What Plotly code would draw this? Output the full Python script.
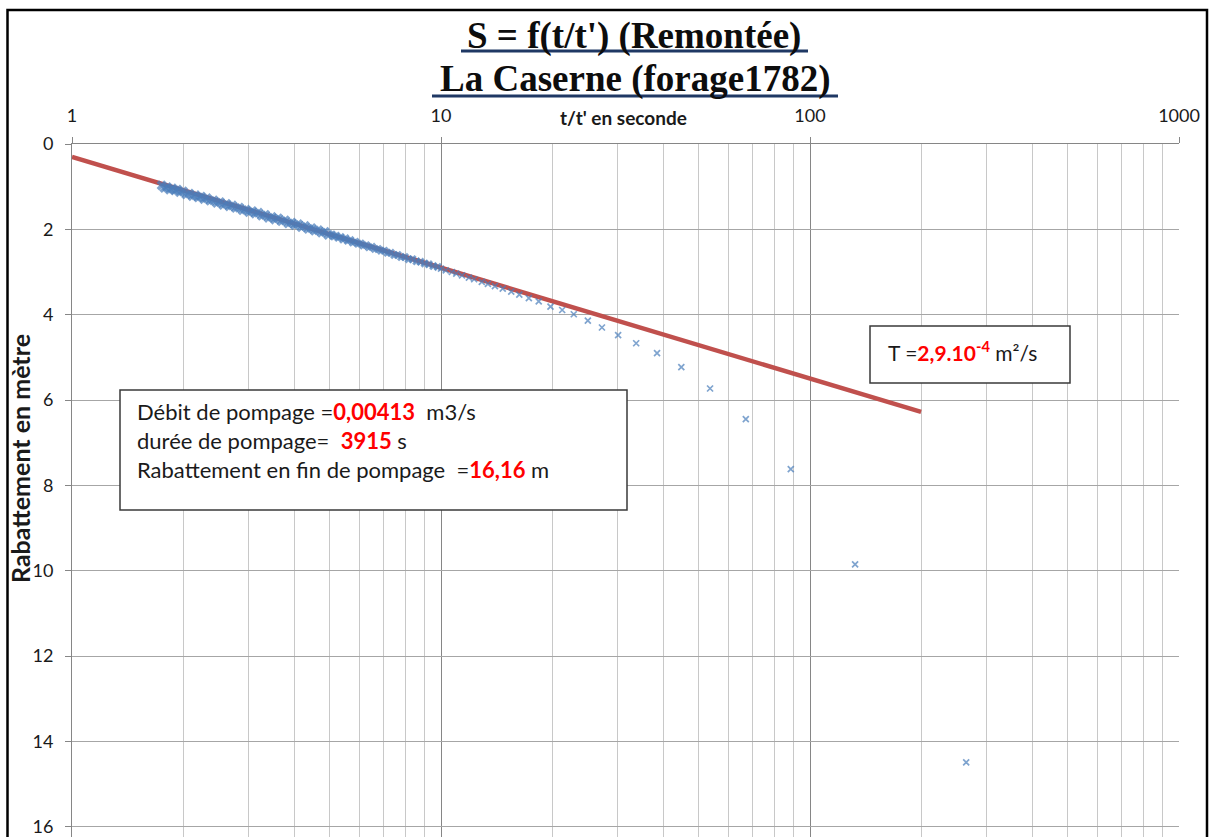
import plotly.graph_objects as go

# ---------------- data ----------------
ratio_t = [1.75, 1.78, 1.81, 1.84, 1.87, 1.9, 1.93, 1.96, 2.0, 2.04, 2.08, 2.12, 2.16,
           2.2, 2.24, 2.28, 2.32, 2.37, 2.42, 2.47, 2.52, 2.57, 2.62, 2.67, 2.72,
           2.78, 2.84, 2.9, 2.96, 3.02, 3.08, 3.14, 3.2, 3.27, 3.34, 3.41, 3.48, 3.55,
           3.62, 3.7, 3.78, 3.86, 3.94, 4.02, 4.1, 4.19, 4.28, 4.37, 4.46, 4.55,
           4.65, 4.75, 4.85, 4.95,
           5.06, 5.13, 5.2, 5.27, 5.35, 5.43, 5.51, 5.59, 5.68, 5.77,
           5.86, 5.96, 6.06, 6.16, 6.27, 6.38, 6.5, 6.62, 6.75, 6.88,
           7.02, 7.16, 7.31, 7.47, 7.63, 7.8, 7.98, 8.17, 8.37, 8.58,
           8.8, 9.03, 9.27, 9.53, 9.8, 10.0,
           10.3, 10.7, 11.0, 11.4, 11.9, 12.3, 12.9, 13.4, 14.0, 14.7, 15.5, 16.3, 17.3, 18.4,
           19.8, 21.3, 22.9, 25.0, 27.3, 30.2, 33.8, 38.5, 44.8, 53.6, 67.0, 88.7, 132.5, 265.0]

rabattement = [0.97, 1.03, 1.01, 1.07, 1.04, 1.09, 1.07, 1.13, 1.11, 1.18, 1.16, 1.22, 1.20,
               1.25, 1.23, 1.29, 1.27, 1.33, 1.32, 1.38, 1.36, 1.43, 1.40, 1.46, 1.44,
               1.50, 1.49, 1.55, 1.54, 1.60, 1.57, 1.63, 1.61, 1.68, 1.66, 1.73, 1.71, 1.77,
               1.74, 1.81, 1.79, 1.86, 1.84, 1.90, 1.88, 1.95, 1.92, 1.99, 1.97, 2.03,
               2.02, 2.08, 2.06, 2.13,
               2.12, 2.17, 2.15, 2.20, 2.18, 2.24, 2.21, 2.27, 2.25, 2.31,
               2.29, 2.34, 2.33, 2.38, 2.37, 2.42, 2.41, 2.46, 2.46, 2.50,
               2.50, 2.55, 2.55, 2.60, 2.60, 2.65, 2.65, 2.70, 2.70, 2.75,
               2.76, 2.80, 2.82, 2.86, 2.88, 2.92,
               2.96, 3.00, 3.04, 3.08, 3.13, 3.17, 3.23, 3.28, 3.33, 3.39, 3.46, 3.53, 3.61, 3.69,
               3.81, 3.89, 3.99, 4.14, 4.30, 4.48, 4.67, 4.90, 5.23, 5.73, 6.45, 7.62, 9.85, 14.49]

droite_t = [1, 200]
droite_s = [0.30, 6.28]

x_tickvals = [1, 10, 100, 1000]
x_ticktext = ["1", "10", "100", "1000"]
x_minorvals = [2, 3, 4, 5, 6, 7, 8, 9, 20, 30, 40, 50, 60, 70, 80, 90,
               200, 300, 400, 500, 600, 700, 800, 900]
y_tickvals = [0, 2, 4, 6, 8, 10, 12, 14, 16]
y_ticktext = ["0", "2", "4", "6", "8", "10", "12", "14", "16"]

# ---------------- figure ----------------
# figure is a little taller than the window so that y = 16 sits at the window bottom
W, H = 1211, 850
L, R, T, B = 72, 32, 144, 10
pw, ph = W - L - R, H - T - B
UNIT = 42.67                     # pixels per metre on the y axis
y_bottom = ph / UNIT             # bottom of the range (just beyond 16)


def px(xp):
    return (xp - L) / pw


def py(yp):
    return (H - B - yp) / ph


BLUE = "#4a7ebb"
# dense early points merge into a thick band; late points are single small crosses
msym, msize, mlw = [], [], []
for t in ratio_t:
    if t < 5:
        msym.append("x"); msize.append(9); mlw.append(0)
    elif t < 10:
        msym.append("x"); msize.append(7.5); mlw.append(0)
    else:
        msym.append("x-thin"); msize.append(6); mlw.append(1.7)

fig = go.Figure()
fig.add_trace(go.Scatter(x=droite_t, y=droite_s, mode="lines",
                         line=dict(color="#c0504d", width=4.5), showlegend=False,
                         hoverinfo="skip"))
fig.add_trace(go.Scatter(x=ratio_t, y=rabattement, mode="markers",
                         marker=dict(symbol=msym, size=msize, color=BLUE,
                                     line=dict(width=mlw, color=BLUE)),
                         showlegend=False))

tickfont = dict(family="Lato", size=18, color="#1a1a1a")
fig.update_xaxes(type="log", range=[0, 3], side="top",
                 tickvals=x_tickvals, ticktext=x_ticktext,
                 ticks="outside", ticklen=6, tickcolor="#868686", tickwidth=1,
                 showline=True, linecolor="#868686", linewidth=1,
                 showgrid=True, gridcolor="#868686", gridwidth=1,
                 minor=dict(tickvals=x_minorvals, showgrid=True, gridcolor="#c8c8c8",
                            gridwidth=1, ticks=""),
                 zeroline=False, tickfont=tickfont, ticklabelstandoff=8)
fig.update_yaxes(range=[y_bottom, 0], tickvals=y_tickvals, ticktext=y_ticktext,
                 ticks="outside", ticklen=6, tickcolor="#868686", tickwidth=1,
                 showline=True, linecolor="#868686", linewidth=1,
                 showgrid=True, gridcolor="#a6a6a6", gridwidth=1,
                 zeroline=False, tickfont=tickfont, ticklabelstandoff=8)

shapes = []
# outer frame
shapes.append(dict(type="rect", xref="paper", yref="paper",
                   x0=px(7.5), x1=px(1207), y0=py(848), y1=py(10),
                   line=dict(color="black", width=2.5), layer="above"))
# title underlines
shapes.append(dict(type="line", xref="paper", yref="paper",
                   x0=px(461), x1=px(808), y0=py(51), y1=py(51),
                   line=dict(color="#1f3864", width=3)))
shapes.append(dict(type="line", xref="paper", yref="paper",
                   x0=px(432), x1=px(838), y0=py(96), y1=py(96),
                   line=dict(color="#1f3864", width=3)))
# text boxes
shapes.append(dict(type="rect", xref="paper", yref="paper",
                   x0=px(120), x1=px(627), y0=py(510), y1=py(390),
                   fillcolor="white", line=dict(color="#3a3a3a", width=1.5), layer="above"))
shapes.append(dict(type="rect", xref="paper", yref="paper",
                   x0=px(870), x1=px(1070), y0=py(383), y1=py(326),
                   fillcolor="white", line=dict(color="#3a3a3a", width=1.5), layer="above"))

RED = "#ff0000"
nb = "\u00a0"


def red(s):
    return '<span style="color:' + RED + '"><b>' + s + '</b></span>'


boxfont = dict(family="Lato", size=22, color="#1a1a1a")
ann = []
ann.append(dict(text="<b>S = f(t/t') (Remontée)</b>", x=px(634), y=py(36), xref="paper", yref="paper",
                showarrow=False, xanchor="center", yanchor="middle",
                font=dict(family="Liberation Serif", size=37, color="#0d0d0d")))
ann.append(dict(text="<b>La Caserne (forage1782)</b>", x=px(635), y=py(79), xref="paper", yref="paper",
                showarrow=False, xanchor="center", yanchor="middle",
                font=dict(family="Liberation Serif", size=37, color="#0d0d0d")))
ann.append(dict(text="<b>t/t' en seconde</b>", x=px(623), y=py(117), xref="paper", yref="paper",
                showarrow=False, xanchor="center", yanchor="middle",
                font=dict(family="Lato", size=19, color="#1a1a1a")))
ann.append(dict(text="<b>Rabattement en mètre</b>", x=px(20), y=py(459), xref="paper", yref="paper",
                showarrow=False, xanchor="center", yanchor="middle", textangle=-90,
                font=dict(family="Lato", size=25, color="#1a1a1a")))
ann.append(dict(text="Débit de pompage =" + red("0,00413") + nb * 2 + "m3/s",
                x=px(135), y=py(411), xref="paper", yref="paper", showarrow=False,
                xanchor="left", yanchor="middle", font=boxfont))
ann.append(dict(text="durée de pompage=" + nb * 2 + red("3915") + " s",
                x=px(135), y=py(440), xref="paper", yref="paper", showarrow=False,
                xanchor="left", yanchor="middle", font=boxfont))
ann.append(dict(text="Rabattement en fin de pompage" + nb * 2 + "=" + red("16,16") + " m",
                x=px(135), y=py(469), xref="paper", yref="paper", showarrow=False,
                xanchor="left", yanchor="middle", font=boxfont))
ann.append(dict(text="T =" + red("2,9.10<sup>-4</sup>") + " m²/s",
                x=px(886), y=py(351), xref="paper", yref="paper", showarrow=False,
                xanchor="left", yanchor="middle", font=dict(family="Lato", size=21, color="#1a1a1a")))

fig.update_layout(width=W, height=H, margin=dict(l=L, r=R, t=T, b=B, pad=0),
                  paper_bgcolor="white", plot_bgcolor="white",
                  shapes=shapes, annotations=ann, showlegend=False)

fig.write_html("out.html", config={"displayModeBar": False},
               post_script="document.body.style.margin='0';"
                           "document.body.style.overflow='hidden';"
                           "document.documentElement.style.overflow='hidden';")
